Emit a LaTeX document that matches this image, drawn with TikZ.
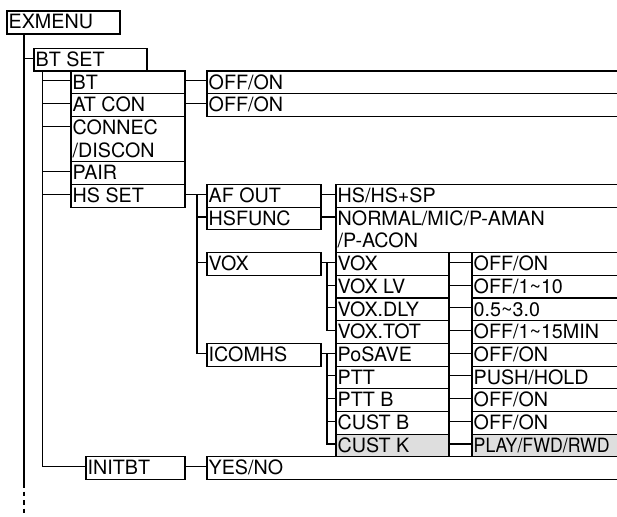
\documentclass[tikz,border=0pt]{standalone}
\usepackage{fontspec}
\setmainfont{TeX Gyre Heros}
\definecolor{shade}{RGB}{222,222,222}
\tikzset{
  box/.style={draw, line width=1.1pt, anchor=north west, inner sep=0pt, outer sep=0pt},
  txt/.style={anchor=base west, inner sep=0pt, font=\fontsize{19.7}{22.7}\selectfont},
  conn/.style={line width=1.1pt},
}
% name, x, y, width, height, fill, text
\newcommand{\bx}[7]{%
  \node[box, fill=#6, minimum width=#4pt, minimum height=#5pt] (#1) at (#2,#3) {};
  \coordinate (#1-L) at ([yshift=-9.8pt]#1.north west);
  \coordinate (#1-R) at ([yshift=-9.8pt]#1.north east);
  \path (#1.north west) ++(1.5pt,-18pt) node[txt] {#7};}
\newcommand{\secondline}[2]{%
  \path (#1.north west) ++(1.5pt,-40.7pt) node[txt] {#2};}
\begin{document}
\begin{tikzpicture}[x=1pt,y=-1pt]
\useasboundingbox (0,0) rectangle (617,516);
\clip (0,0) rectangle (617,516);
% level 0/1
\bx{ex}{7}{11}{113}{23}{white}{EXMENU}
\bx{btset}{34}{48.3}{113}{22.7}{white}{BT SET}
% level 2
\bx{bt}{71}{71}{114}{22.7}{white}{BT}
\bx{atcon}{71}{93.7}{114}{22.7}{white}{AT CON}
\bx{connec}{71}{116.4}{114}{45.4}{white}{CONNEC}
\secondline{connec}{/DISCON}
\bx{pair}{71}{161.8}{114}{22.7}{white}{PAIR}
\bx{hsset}{71}{184.5}{114}{22.7}{white}{HS SET}
\bx{initbt}{86}{456.9}{99}{22.7}{white}{INITBT}
% level 3
\bx{vbt}{207}{71}{430}{22.7}{white}{OFF/ON}
\bx{vatcon}{207}{93.7}{430}{22.7}{white}{OFF/ON}
\bx{afout}{207}{184.5}{114}{22.7}{white}{AF OUT}
\bx{hsfunc}{207}{207.2}{114}{22.7}{white}{HSFUNC}
\bx{vox}{207}{252.6}{114}{22.7}{white}{VOX}
\bx{icomhs}{207}{343.4}{114}{22.7}{white}{ICOMHS}
\bx{yesno}{207}{456.9}{430}{22.7}{white}{YES/NO}
% level 4
\bx{vafout}{336}{184.5}{300}{22.7}{white}{HS/HS+SP}
\bx{vhsfunc}{336}{207.2}{300}{45.4}{white}{NORMAL/MIC/P-AMAN}
\secondline{vhsfunc}{/P-ACON}
\bx{voxa}{336}{252.6}{113}{22.7}{white}{VOX}
\bx{voxlv}{336}{275.3}{113}{22.7}{white}{VOX LV}
\bx{voxdly}{336}{298}{113}{22.7}{white}{VOX.DLY}
\bx{voxtot}{336}{320.7}{113}{22.7}{white}{VOX.TOT}
\bx{posave}{336}{343.4}{113}{22.7}{white}{PoSAVE}
\bx{ptt}{336}{366.1}{113}{22.7}{white}{PTT}
\bx{pttb}{336}{388.8}{113}{22.7}{white}{PTT B}
\bx{custb}{336}{411.5}{113}{22.7}{white}{CUST B}
\bx{custk}{336}{434.2}{113}{22.7}{shade}{CUST K}
% level 5
\bx{wa}{472}{252.6}{200}{22.7}{white}{OFF/ON}
\bx{wb}{472}{275.3}{200}{22.7}{white}{OFF/1\textasciitilde 10}
\bx{wc}{472}{298}{200}{22.7}{white}{0.5\textasciitilde 3.0}
\bx{wd}{472}{320.7}{200}{22.7}{white}{OFF/1\textasciitilde 15MIN}
\bx{we}{472}{343.4}{200}{22.7}{white}{OFF/ON}
\bx{wf}{472}{366.1}{200}{22.7}{white}{PUSH/HOLD}
\bx{wg}{472}{388.8}{200}{22.7}{white}{OFF/ON}
\bx{wh}{472}{411.5}{200}{22.7}{white}{OFF/ON}
\bx{wi}{472}{434.2}{200}{22.7}{shade}{\scalebox{0.9}[1]{PLAY/FWD/RWD}}
% connectors: EXMENU trunk
\coordinate (ext) at ([xshift=17pt]ex.south west);
\coordinate (exdash) at (24,483);
\coordinate (exend) at (24,516);
\draw[conn] (ext) -- (exdash);
\draw[conn, dash pattern=on 4.5pt off 4pt] (exdash) -- (exend);
\draw[conn] (ext |- btset-L) -- (btset-L);
% BT SET trunk
\coordinate (btt) at ([xshift=8.5pt]btset.south west);
\draw[conn] (btt) |- (initbt-L);
\foreach \n in {bt,atcon,connec,pair,hsset}
  \draw[conn] (btt |- \n-L) -- (\n-L);
\draw[conn] (bt-R) -- (vbt-L);
\draw[conn] (atcon-R) -- (vatcon-L);
\draw[conn] (initbt-R) -- (yesno-L);
% HS SET trunk
\draw[conn] (hsset-R) -- (afout-L);
\coordinate (hst) at ([xshift=12pt]hsset-R);
\draw[conn] (hst) |- (icomhs-L);
\foreach \n in {hsfunc,vox}
  \draw[conn] (hst |- \n-L) -- (\n-L);
\draw[conn] (afout-R) -- (vafout-L);
\draw[conn] (hsfunc-R) -- (vhsfunc-L);
% VOX trunk
\draw[conn] (vox-R) -- (voxa-L);
\coordinate (vxt) at ([xshift=6pt]vox-R);
\draw[conn] (vxt) |- (voxtot-L);
\foreach \n in {voxlv,voxdly}
  \draw[conn] (vxt |- \n-L) -- (\n-L);
% ICOMHS trunk
\draw[conn] (icomhs-R) -- (posave-L);
\coordinate (ict) at ([xshift=6pt]icomhs-R);
\draw[conn] (ict) |- (custk-L);
\foreach \n in {ptt,pttb,custb}
  \draw[conn] (ict |- \n-L) -- (\n-L);
% values
\draw[conn] (voxa-R) -- (wa-L);
\draw[conn] (voxlv-R) -- (wb-L);
\draw[conn] (voxdly-R) -- (wc-L);
\draw[conn] (voxtot-R) -- (wd-L);
\draw[conn] (posave-R) -- (we-L);
\draw[conn] (ptt-R) -- (wf-L);
\draw[conn] (pttb-R) -- (wg-L);
\draw[conn] (custb-R) -- (wh-L);
\draw[conn] (custk-R) -- (wi-L);
\end{tikzpicture}
\end{document}
